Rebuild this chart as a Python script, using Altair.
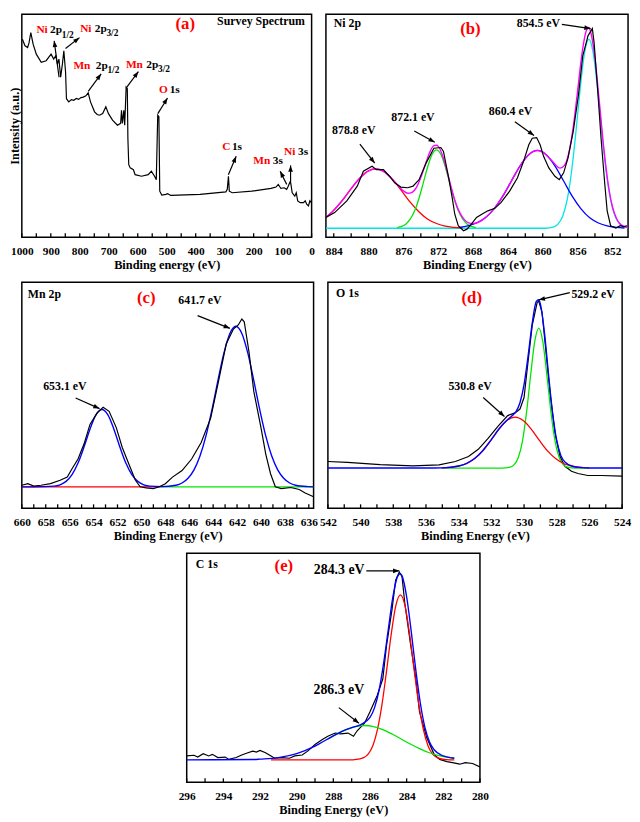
import math
import altair as alt
import pandas as pd

FONT = "Liberation Serif"
BLACK = "#000000"
RED = "#ff0000"
GREEN = "#00e600"
BLUE = "#0000ff"
CYAN = "#00e5e5"
MAGENTA = "#ff00ff"

# ---------------- (a) survey spectrum: [binding energy eV, intensity a.u.] ----------------
a_survey = [[998,87.6],[989,84.7],[980,83.9],[975,86.1],[969,90.5],[961,85.4],[950,81.0],[933,77.4],
            [916,78.1],[899,81.0],[890,78.8],[883,80.3],[877,76.6],[872,78.8],[866,70.8],[860,76.6],
            [855,82.5],[849,73.0],[846,61.3],[838,59.9],[829,60.9],[821,60.6],[812,61.4],[804,61.0],
            [796,61.8],[788,62.0],[779,62.6],[771,63.9],[763,59.9],[749,55.5],[740,54.3],[732,54.0],
            [721,54.7],[710,57.7],[701,54.7],[687,51.8],[670,49.6],[659,50.4],[656,56.2],[653,50.4],
            [648,56.2],[645,49.6],[640,66.4],[636,65.7],[634,43.8],[631,32.1],[626,30.7],[615,29.9],
            [609,27.7],[587,27.0],[564,27.7],[553,29.2],[542,27.0],[536,25.5],[531,54.0],[527,53.3],
            [524,20.4],[517,18.7],[503,19.0],[497,19.3],[486,18.5],[385,19.0],[296,20.1],[291,21.2],
            [287,27.0],[284,20.4],[274,19.7],[207,20.4],[140,21.6],[123,22.2],[115,23.4],[106,21.6],
            [95,21.9],[86,21.2],[82,22.2],[73,24.8],[67,19.7],[58,18.2],[53,19.7],[48,16.1],[39,15.3],
            [28,15.3],[22,16.1],[17,14.6],[11,13.9],[6,16.1],[1,15.3]]
a_labels = [("Ni", 949.7, 91.7, "el"), ("2p", 902.7, 91.7, "orb"), ("1/2", 862.4, 89.6, "sub"),
            ("Ni", 798.7, 92.0, "el"), ("2p", 748.3, 92.0, "orb"), ("3/2", 708.0, 90.2, "sub"),
            ("Mn", 822.1, 75.6, "el"), ("2p", 745.0, 75.6, "orb"), ("1/2", 704.7, 74.0, "sub"),
            ("Mn", 640.9, 76.2, "el"), ("2p", 570.5, 76.2, "orb"), ("3/2", 530.2, 74.5, "sub"),
            ("O", 526.8, 65.0, "el"), ("1s", 489.9, 65.0, "orb"),
            ("C", 308.7, 39.7, "el"), ("1s", 275.0, 39.7, "orb"),
            ("Mn", 201.3, 33.6, "el"), ("3s", 134.0, 33.6, "orb"),
            ("Ni", 95.5, 37.7, "el"), ("3s", 47.0, 37.7, "orb"),
            ("(a)", 436.0, 94.2, "tag"), ("Survey Spectrum", 23.4, 95.6, "nameR")]
a_arrows = [(871.5, 70.8, 888.3, 86.9), (849.2, 83.5, 801.1, 88.3), (770.9, 64.5, 726.3, 72.3),
            (640.2, 66.0, 597.8, 73.3), (530.7, 54.7, 497.2, 61.6), (287.2, 27.7, 260.3, 35.8),
            (86.0, 23.4, 108.4, 29.2), (72.6, 24.8, 72.6, 31.8)]

# ---------------- (b) Ni 2p ----------------
b_black = [[884.9,8.8],[883.9,10.9],[882.5,16.1],[881.3,22.6],[880.6,29.2],[879.6,31.4],[879.1,29.9],
           [878.3,29.9],[877.6,27.0],[877.0,24.1],[876.3,22.2],[875.5,21.9],[874.9,22.6],[874.2,25.5],
           [873.4,32.8],[872.5,39.4],[871.7,39.7],[871.4,38.0],[870.8,26.3],[870.4,17.5],[870.1,10.2],
           [869.7,5.1],[869.1,2.9],[868.7,3.6],[868.2,5.8],[867.6,8.8],[867.0,10.2],[866.3,11.7],
           [865.5,12.8],[864.8,15.3],[863.8,20.4],[862.9,26.3],[862.2,33.6],[861.6,40.9],[861.2,43.8],
           [860.7,44.1],[860.3,40.9],[859.9,35.8],[859.3,30.7],[858.6,27.0],[858.1,25.5],[857.6,28.5],
           [857.1,35.0],[856.5,46.7],[855.9,62.8],[855.4,80.3],[854.8,89.1],[854.3,92.3],[854.1,86.1],
           [853.7,65.7],[853.3,43.8],[852.9,24.8],[852.6,11.7],[852.2,5.1],[851.6,4.1],[851.1,5.1],
           [850.7,4.7],[850.3,5.1]]
b_env = [[884.9,8.8],[884,11.9],[883,16.4],[882,21.5],[881,26.2],[880,29.4],[879.2,30.3],[878,28.4],
         [877,24.6],[876,20.5],[875.5,19.5],[875,19.9],[874.5,22.1],[874,26.4],[873.5,32.0],[873,37.4],
         [872.5,40.5],[872.2,40.7],[872,40.2],[871.5,36.1],[871,29.4],[870.5,21.9],[870,15.3],[869.5,10.7],
         [869,7.8],[868.5,6.4],[868,6.1],[867,7.5],[866,10.8],[865,15.7],[864,22.1],[863,29.0],[862,34.9],
         [861,38.1],[860.6,38.4],[860,37.7],[859,34.1],[858,30.6],[857.5,31.8],[857,37.3],[856.5,48.6],
         [856,64.5],[855.5,80.9],[855,91.3],[854.7,92.8],[854.5,90.9],[854,79.1],[853.5,60.0],[853,40.0],
         [852.5,24.0],[852,13.6],[851.5,8.1],[851,5.5],[850.2,4.3]]
b_red = [[884.9,8.8],[884.2,11.2],[883.2,15.4],[882.2,20.5],[881.2,25.4],[880.2,29.0],[879.2,30.3],
         [878.2,29.0],[877.2,25.4],[876.2,20.5],[875.2,15.4],[874.2,11.2],[873.2,8.0],[872.2,6.1],
         [871.2,4.9],[870.2,4.4],[869.2,4.2]]
b_green = [[876.7,4.3],[876.2,4.8],[875.7,5.9],[875.2,8.1],[874.7,11.8],[874.2,17.4],[873.7,24.3],
           [873.2,31.3],[872.7,36.7],[872.2,38.7],[871.7,36.7],[871.2,31.3],[870.7,24.3],[870.2,17.4],
           [869.7,11.8],[869.2,8.1],[868.7,5.9],[868.2,4.8],[867.7,4.3]]
b_blue = [[869.6,4.4],[868.6,5.0],[867.6,6.3],[866.6,8.6],[865.6,12.6],[864.6,18.1],[863.6,24.9],
          [862.6,31.6],[861.6,36.5],[860.6,38.4],[859.6,36.5],[858.6,31.6],[857.6,24.9],[856.6,18.1],
          [855.6,12.6],[854.6,8.6],[853.6,6.3],[852.6,5.0],[851.6,4.4],[850.6,4.1]]
b_cyan = [[884.9,4.0],[860,4.0],[859.7,4.0],[858.7,4.6],[858.2,6.0],[857.7,9.4],[857.2,16.4],[856.7,28.7],
          [856.2,46.1],[855.7,65.6],[855.2,81.5],[854.7,87.6],[854.2,81.5],[853.7,65.6],[853.2,46.1],
          [852.7,28.7],[852.2,16.4],[851.7,9.4],[851.2,6.0],[850.7,4.6],[850.2,4.2]]
b_labels = [("Ni 2p", 884.0, 94.9, "name"), ("(b)", 868.3, 92.0, "tag"), ("854.5 eV", 858.0, 94.9, "pkR"),
            ("872.1 eV", 874.9, 53.3, "pk"), ("878.8 eV", 881.7, 47.4, "pk"), ("860.4 eV", 863.7, 55.8, "pk")]
b_arrows = [(857.8, 94.2, 854.5, 92.3), (874.75, 47.0, 872.4, 42.0), (881.0, 41.2, 879.3, 32.8),
            (863.2, 51.1, 861.0, 45.0)]

# ---------------- (c) Mn 2p ----------------
c_black = [[660,10.2],[659.5,10.9],[659.0,9.8],[658.4,10.2],[657.6,10.9],[656.8,12.4],[656.2,13.8],
           [655.8,17.5],[655.3,21.8],[654.8,28.4],[654.3,37.1],[653.7,42.2],[653.2,44.7],[652.7,42.9],
           [652.1,35.7],[651.6,26.9],[651.0,18.9],[650.5,12.4],[650.1,9.5],[649.6,9.0],[649.0,8.7],
           [648.5,9.5],[648.0,10.9],[647.4,13.8],[646.6,16.7],[645.8,21.8],[645.0,29.1],[644.2,40.0],
           [643.5,57.5],[642.9,72.8],[642.3,79.3],[641.9,81.1],[641.6,83.7],[641.4,82.5],[641.0,69.1],
           [640.6,51.7],[640.0,35.7],[639.6,24.0],[639.2,15.3],[638.8,9.5],[638.3,8.7],[637.5,9.2],
           [636.8,8.3],[636.3,6.8],[635.6,5.1]]
c_blue = [[660,9.5],[658.3,9.6],[657.3,9.8],[656.8,10.4],[656.3,11.9],[655.8,14.9],[655.3,20.0],
          [654.8,27.1],[654.3,35.0],[653.8,41.3],[653.3,43.7],[652.8,41.3],[652.3,35.0],[651.8,27.1],
          [651.3,20.0],[650.8,14.9],[650.3,11.9],[649.8,10.4],[649.3,9.8],[648.3,9.6],[647.1,10.2],
          [646.6,11.2],[646.1,13.3],[645.6,17.0],[645.1,23.1],[644.6,32.0],[644.1,43.6],[643.6,56.5],
          [643.1,68.6],[642.6,77.3],[642.1,80.5],[641.6,77.3],[641.1,68.6],[640.6,56.5],[640.1,43.6],
          [639.6,32.0],[639.1,23.1],[638.6,17.0],[638.1,13.3],[637.6,11.2],[637.1,10.2],[636.1,9.6],
          [635.6,9.5]]
c_red = [[660,9.5],[648.4,9.5]]
c_green = [[648.4,9.5],[635.6,9.5]]
c_labels = [("Mn 2p", 659.5, 94.6, "name"), ("(c)", 649.6, 93.2, "tag"),
            ("641.7 eV", 645.1, 92.1, "pk"), ("653.1 eV", 656.4, 53.9, "pk")]
c_arrows = [(645.3, 85.2, 642.6, 79.6), (655.5, 48.8, 653.5, 44.1)]

# ---------------- (d) O 1s ----------------
d_black = [[542,20.7],[540.8,20.3],[538.8,19.3],[536.8,18.8],[535.2,19.2],[534.2,20.7],[533.4,22.9],
           [532.8,26.1],[532.2,30.9],[531.6,36.2],[531.0,41.0],[530.55,42.2],[530.25,43.9],[530.0,49.0],
           [529.8,62.0],[529.5,80.9],[529.2,91.0],[529.1,91.7],[528.9,86.7],[528.7,72.2],[528.4,50.4],
           [528.1,33.0],[527.8,22.9],[527.5,18.6],[527.1,16.4],[526.7,15.4],[526.1,14.5],[525.3,14.5],
           [524,14.2]]
d_blue = [[542,17.8],[536,17.8],[535,17.9],[534,18.7],[533.5,19.9],[533,22.1],[532.5,25.7],[532,30.4],
          [531.5,35.4],[531,39.3],[530.75,40.8],[530.5,42.7],[530.25,46.7],[530,54.7],[529.75,67.5],
          [529.5,81.9],[529.25,91.5],[529.1,92.3],[529,90.3],[528.75,77.6],[528.5,59.0],[528.25,41.9],
          [528,30.0],[527.75,23.4],[527.5,20.5],[527,18.5],[526.5,18.05],[526,17.8],[524,17.8]]
d_green = [[535,17.8],[531.35,17.8],[530.85,18.2],[530.6,19.3],[530.35,22.5],[530.1,29.6],[529.85,42.3],
           [529.6,58.7],[529.35,73.6],[529.1,79.7],[528.85,73.6],[528.6,58.7],[528.35,42.3],[528.1,29.6],
           [527.85,22.5],[527.6,19.3],[527.35,18.2],[526.85,17.8],[526,17.8]]
d_red = [[535.05,17.9],[534.55,18.1],[534.05,18.6],[533.55,19.7],[533.05,21.9],[532.55,25.3],[532.05,29.9],
         [531.55,34.9],[531.05,38.8],[530.55,40.3],[530.05,38.8],[529.55,34.9],[529.05,29.9],[528.55,25.3],
         [528.05,21.9],[527.55,19.7],[527.05,18.6],[526.55,18.1],[526.05,17.9]]
d_labels = [("O 1s", 541.5, 95.1, "name"), ("(d)", 533.2, 93.2, "tag"),
            ("529.2 eV", 527.1, 94.6, "pkL"), ("530.8 eV", 533.3, 54.1, "pk")]
d_arrows = [(527.2, 95.4, 529.1, 92.2), (532.5, 49.0, 531.2, 40.6)]

# ---------------- (e) C 1s ----------------
e_black = [[296,11.5],[295.6,11.8],[295.4,11.0],[295.1,12.5],[294.8,11.5],[294.6,12.2],[294.3,10.8],
           [293.9,11.0],[293.7,10.0],[293.3,10.8],[293.0,11.9],[292.7,12.8],[292.4,13.6],[292.2,13.2],
           [292.0,13.9],[291.7,12.9],[291.4,11.5],[291.2,10.5],[290.8,10.8],[290.4,10.5],[290.1,11.5],
           [289.7,11.9],[289.4,13.6],[289.0,16.5],[288.6,18.7],[288.3,20.1],[287.9,21.5],[287.6,21.1],
           [287.2,21.5],[286.9,20.1],[286.7,22.5],[286.3,25.8],[286.0,30.8],[285.6,38.0],[285.3,45.2],
           [285.1,59.5],[284.8,75.3],[284.6,88.2],[284.4,91.8],[284.25,89.7],[284.1,78.2],[283.8,61.0],
           [283.5,45.2],[283.3,30.8],[282.9,19.4],[282.5,12.2],[282.2,10.0],[281.8,9.0],[281.5,8.6],
           [281.1,7.9],[280.8,8.6],[280.4,8.2],[280,6.7]]
e_blue = [[296,9.8],[292.3,9.95],[292,10.1],[291,10.75],[290,12.5],[289,15.8],[288,20.3],[287.5,22.3],
          [287,23.9],[286.5,25.2],[286,28.3],[285.75,32.6],[285.5,40.4],[285.25,52.3],[285,66.8],
          [284.75,80.9],[284.5,89.8],[284.34,91.1],[284.25,90.1],[284,81.0],[283.75,65.9],[283.5,49.0],
          [283.25,34.4],[283,23.9],[282.75,17.6],[282.5,14.2],[282,11.5],[281.5,10.6],[281.4,10.5]]
e_red = [[291.4,9.8],[287,9.8],[286.84,9.9],[286.34,10.8],[286.09,12.4],[285.84,16.1],[285.59,23.1],
         [285.34,34.2],[285.09,49.0],[284.84,64.7],[284.59,77.1],[284.34,81.8],[284.09,77.1],[283.84,64.7],
         [283.59,49.0],[283.34,34.2],[283.09,23.1],[282.84,16.1],[282.59,12.4],[282.34,10.8],[281.84,9.9],
         [281.4,9.8]]
e_green = [[288.3,18.9],[287.3,23.0],[286.8,24.3],[286.3,24.8],[285.8,24.3],[285.3,23.0],[284.8,21.1],
           [284.3,18.9],[283.8,16.7],[283.3,14.7],[282.8,13.0],[282.3,11.8],[281.8,11.0],[281.4,10.6]]
e_labels = [("C 1s", 295.5, 95.4, "name"), ("(e)", 290.7, 94.3, "tag"),
            ("284.3 eV", 286.3, 92.8, "pkER"), ("286.3 eV", 287.7, 40.2, "pkE")]
e_arrows = [(286.2, 92.3, 284.4, 92.3), (287.7, 32.6, 286.6, 25.8)]

# ---------------- styling ----------------
STYLE = {
    "el": (RED, 11.5, "left"), "orb": (BLACK, 11.5, "left"), "sub": (BLACK, 9.5, "left"),
    "tag": (RED, 17, "center"), "name": (BLACK, 12, "left"), "nameR": (BLACK, 12, "right"),
    "pk": (BLACK, 12, "center"), "pkL": (BLACK, 12, "left"), "pkR": (BLACK, 12, "right"),
    "pkE": (BLACK, 14, "center"), "pkER": (BLACK, 14, "right"),
}
ARROW = "M0,0L0.75,2L-0.75,2Z"


def build_panel(W, H, xl, xr, ytop, majors, minors, xtitle, curves, labels, arrows, ytitle=None):
    xsc = alt.Scale(domain=[xr, xl], reverse=True, nice=False, zero=False)
    ysc = alt.Scale(domain=[0, ytop], nice=False, zero=False)
    xax = alt.Axis(values=majors, format="d", title=xtitle, domain=False, ticks=False, tickSize=0,
                   grid=False, labelFont=FONT, labelFontWeight="bold", labelFontSize=11.5,
                   labelColor="black", labelPadding=8, labelOverlap=False, labelFlush=False,
                   titleFont=FONT, titleFontWeight="bold", titleFontSize=12.5, titleColor="black",
                   titlePadding=2)
    if ytitle:
        yax = alt.Axis(title=ytitle, labels=False, ticks=False, domain=False, grid=False, minExtent=0,
                       titlePadding=0, titleFont=FONT, titleFontWeight="bold", titleFontSize=12.5,
                       titleColor="black")
    else:
        yax = None

    def X(f="x"):
        return alt.X(f"{f}:Q", scale=xsc, axis=xax)

    def Y(f="y"):
        return alt.Y(f"{f}:Q", scale=ysc, axis=yax)

    layers = []
    for pairs, color, width, interp in curves:
        df = pd.DataFrame(pairs, columns=["x", "y"])
        df["o"] = range(len(df))
        layers.append(alt.Chart(df).mark_line(color=color, strokeWidth=width, interpolate=interp, clip=True)
                      .encode(x=X(), y=Y(), order=alt.Order("o:Q")))
    tdf = pd.DataFrame({"x": list(majors) + list(minors)})
    layers.append(alt.Chart(tdf).mark_rule(color="black", strokeWidth=1.3)
                  .encode(x=X(), y=alt.value(H), y2=alt.value(H - 4)))
    rows = []
    for xt, yt, xh, yh in arrows:
        dxs = -(xh - xt) * W / (xl - xr)
        dys = -(yh - yt) * H / ytop
        ang = math.degrees(math.atan2(dxs, -dys)) % 360
        rows.append({"x": xt, "y": yt, "x2": xh, "y2": yh, "ang": ang})
    adf = pd.DataFrame(rows)
    layers.append(alt.Chart(adf).mark_rule(color="black", strokeWidth=1.2)
                  .encode(x=X(), y=Y(), x2="x2:Q", y2="y2:Q"))
    layers.append(alt.Chart(adf).mark_point(shape=ARROW, filled=True, color="black", opacity=1, size=40)
                  .encode(x=X("x2"), y=Y("y2"), angle=alt.Angle("ang:Q", scale=None)))
    ldf = pd.DataFrame(labels, columns=["t", "x", "y", "k"])
    ldf["c"] = ldf["k"].map(lambda k: STYLE[k][0])
    ldf["s"] = ldf["k"].map(lambda k: STYLE[k][1])
    ldf["a"] = ldf["k"].map(lambda k: STYLE[k][2])
    for align in ["left", "center", "right"]:
        sub = ldf[ldf["a"] == align]
        if len(sub) == 0:
            continue
        layers.append(alt.Chart(sub).mark_text(align=align, baseline="middle", font=FONT, fontWeight="bold")
                      .encode(x=X(), y=Y(), text="t:N", color=alt.Color("c:N", scale=None),
                              size=alt.Size("s:Q", scale=None)))
    return alt.layer(*layers).properties(width=W, height=H)


A = build_panel(293.5, 226, 1000, 0, 98.7, list(range(0, 1001, 100)), list(range(50, 1000, 100)),
                "Binding energy (eV)", [(a_survey, BLACK, 1.2, "linear")], a_labels, a_arrows,
                ytitle="Intensity (a.u.)")
B = build_panel(306, 226, 884.9, 850.2, 98.7, list(range(852, 885, 4)), list(range(854, 883, 4)),
                "Binding Energy (eV)",
                [(b_cyan, CYAN, 1.3, "monotone"), (b_red, RED, 1.3, "monotone"),
                 (b_green, GREEN, 1.3, "monotone"), (b_blue, BLUE, 1.3, "monotone"),
                 (b_env, MAGENTA, 1.4, "monotone"), (b_black, BLACK, 1.2, "linear")],
                b_labels, b_arrows)
C = build_panel(295.5, 229, 660, 635.6, 100, list(range(636, 661, 2)), list(range(637, 660, 2)),
                "Binding Energy (eV)",
                [(c_red, RED, 1.3, "linear"), (c_green, GREEN, 1.3, "linear"),
                 (c_blue, BLUE, 1.4, "monotone"), (c_black, BLACK, 1.2, "linear")],
                c_labels, c_arrows)
D = build_panel(298, 229, 542, 524, 100, list(range(524, 543, 2)), list(range(525, 542, 2)),
                "Binding Energy (eV)",
                [(d_black, BLACK, 1.2, "linear"), (d_green, GREEN, 1.3, "monotone"),
                 (d_red, RED, 1.3, "monotone"), (d_blue, BLUE, 1.4, "monotone")],
                d_labels, d_arrows)
E = build_panel(297, 232, 296, 280, 100, list(range(280, 297, 2)), list(range(281, 296, 2)),
                "Binding Energy (eV)",
                [(e_black, BLACK, 1.2, "linear"), (e_red, RED, 1.3, "monotone"),
                 (e_green, GREEN, 1.3, "monotone"), (e_blue, BLUE, 1.4, "monotone")],
                e_labels, e_arrows)

spacer = (alt.Chart(pd.DataFrame({"x": [0]})).mark_point(opacity=0)
          .encode(x=alt.value(5), y=alt.value(5))
          .properties(width=152.5, height=10, view=alt.ViewBackground(stroke="transparent")))

row1 = alt.hconcat(A, B, spacing=14, bounds="flush")
row2 = alt.hconcat(C, D, spacing=14, bounds="flush")
row3 = alt.hconcat(spacer, E, spacing=14, bounds="flush")

chart = (alt.vconcat(row1, row2, row3, spacing=9.5)
         .properties(padding={"left": 0, "top": 0, "right": 0, "bottom": 0})
         .configure(background="white")
         .configure_view(stroke="black", strokeWidth=1.5))

chart.save("out.html", embed_options={"renderer": "svg", "actions": False})
